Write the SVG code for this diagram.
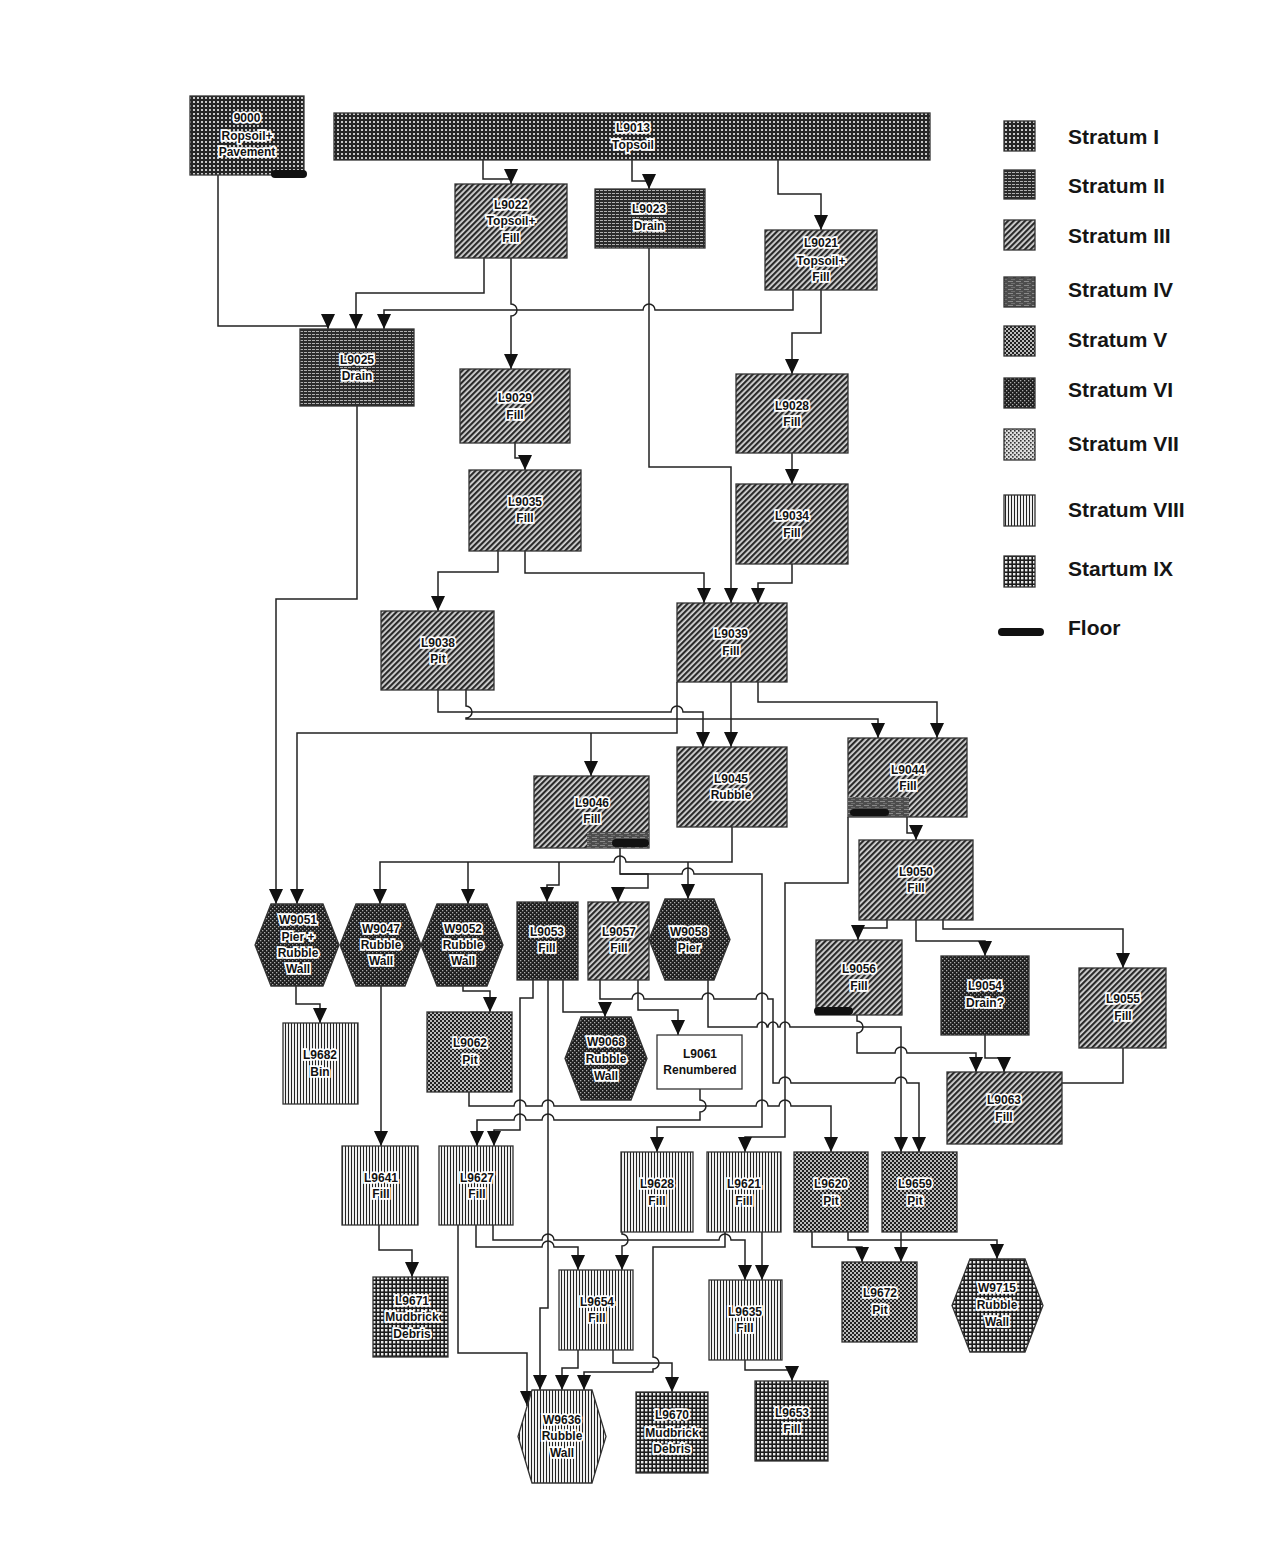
<svg xmlns="http://www.w3.org/2000/svg" width="1276" height="1550" viewBox="0 0 1276 1550">
<defs>
<style>
.n{stroke:#333;stroke-width:1.3}
.t{font-family:"Liberation Sans",Arial,sans-serif;font-weight:bold;font-size:12px;fill:#111;stroke:#fff;stroke-width:3.5;paint-order:stroke;stroke-linejoin:miter;text-anchor:middle}
.tp{font-family:"Liberation Sans",Arial,sans-serif;font-weight:bold;font-size:12px;fill:#111;text-anchor:middle}
#connectors path{fill:none;stroke:#222;stroke-width:1.5}
#connectors path.a{marker-end:url(#ah)}
.leg{font-family:"Liberation Sans",Arial,sans-serif;font-weight:bold;font-size:21px;fill:#151515}
.fl{fill:#111}
</style>
<marker id="ah" markerUnits="userSpaceOnUse" markerWidth="15" markerHeight="14" refX="15" refY="7" orient="auto"><path d="M0,0 L15,7 L0,14 z" fill="#111"/></marker>
<pattern id="pI" width="4" height="4" patternUnits="userSpaceOnUse"><rect width="4" height="4" fill="#262626"/><rect x="1" y="1" width="2" height="2" fill="#c8c8c8"/></pattern>
<pattern id="pII" width="4" height="3" patternUnits="userSpaceOnUse"><rect width="4" height="3" fill="#2b2b2b"/><rect x="0" y="1" width="3" height="1" fill="#b0b0b0"/></pattern>
<pattern id="pIII" width="4" height="4" patternUnits="userSpaceOnUse" patternTransform="rotate(45)"><rect width="4" height="4" fill="#d8d8d8"/><rect width="2.2" height="4" fill="#2a2a2a"/></pattern>
<pattern id="pIV" width="8" height="4" patternUnits="userSpaceOnUse"><rect width="8" height="4" fill="#4d4d4d"/><rect y="1" width="5" height="1" fill="#8a8a8a"/><rect x="3" y="3" width="4" height="0.8" fill="#777"/></pattern>
<pattern id="pV" width="4" height="4" patternUnits="userSpaceOnUse"><rect width="4" height="4" fill="#bbb"/><rect width="2" height="2" fill="#222"/><rect x="2" y="2" width="2" height="2" fill="#222"/></pattern>
<pattern id="pVI" width="4" height="4" patternUnits="userSpaceOnUse"><rect width="4" height="4" fill="#1e1e1e"/><rect width="1.3" height="1.3" fill="#aaa"/><rect x="2" y="2" width="1.3" height="1.3" fill="#aaa"/></pattern>
<pattern id="pVII" width="4" height="4" patternUnits="userSpaceOnUse"><rect width="4" height="4" fill="#ddd"/><rect width="1.6" height="1.6" fill="#333"/><rect x="2" y="2" width="1.6" height="1.6" fill="#333"/></pattern>
<pattern id="pVIII" width="3" height="3" patternUnits="userSpaceOnUse"><rect width="3" height="3" fill="#f0f0f0"/><rect width="1" height="3" fill="#222"/></pattern>
<pattern id="pIX" width="4" height="4" patternUnits="userSpaceOnUse"><rect width="4" height="4" fill="#1c1c1c"/><rect x="1" y="1" width="2.4" height="2.4" fill="#e8e8e8"/></pattern>
</defs>
<rect width="1276" height="1550" fill="#fff"/>

<g id="connectors">
<path class="a" d="M483,160 V179 H511 V184"/>
<path class="a" d="M632,160 V181 H649 V189"/>
<path class="a" d="M778,160 V194 H821 V230"/>
<path class="a" d="M218,175 V326 H328 V329"/>
<path class="a" d="M484,258 V293 H356 V329"/>
<path class="a" d="M793,290 V310 H655 a6,6 0 0 0 -12,0 H384 V329"/>
<path class="a" d="M511,258 V304 a6,6 0 0 1 0,12 V369"/>
<path class="a" d="M649,248 V467 H731 V603"/>
<path class="a" d="M821,290 V333 H792 V374"/>
<path class="a" d="M357,406 V599 H276 V904"/>
<path class="a" d="M515,443 V458 H525 V470"/>
<path class="a" d="M792,453 V484"/>
<path class="a" d="M498,551 V572 H438 V611"/>
<path class="a" d="M525,551 V573 H704 V603"/>
<path class="a" d="M792,564 V583 H758 V603"/>
<path class="a" d="M438,690 V712 H671 a6,6 0 0 1 12,0 H703 V747"/>
<path class="a" d="M466,690 V706 a6,6 0 0 1 0,12 V719 H878 V738"/>
<path class="a" d="M677,682 V733 H297 V904"/>
<path class="a" d="M591,733 V776"/>
<path class="a" d="M731,682 V747"/>
<path class="a" d="M758,682 V702 H937 V738"/>
<path class="a" d="M907,817 V833 H916 V840"/>
<path class="a" d="M848,817 V883 H785 V1137 H745 V1152"/>
<path class="a" d="M732,827 V862 H626 a6,6 0 0 0 -12,0 H380 V904"/>
<path class="a" d="M468,862 V904"/>
<path class="a" d="M559,862 V885 H547 V902"/>
<path class="a" d="M688,862 V899"/>
<path class="a" d="M620,848 V874 H648 V888 H618 V902"/>
<path class="a" d="M620,874 H682 a6,6 0 0 1 12,0 H762 V1127 H657 V1152"/>
<path class="a" d="M887,920 V928 H858 V940"/>
<path class="a" d="M916,920 V941 H985 V956"/>
<path class="a" d="M943,920 V929 H1123 V968"/>
<path class="a" d="M985,1035 V1058 H1004 V1072"/>
<path class="a" d="M857,1015 V1021 a6,6 0 0 1 0,12 V1053 H895 a6,6 0 0 1 12,0 H976 V1072"/>
<path d="M1123,1048 V1083 H1062"/>
<path class="a" d="M708,980 V1027 H757 a5,5 0 0 1 10,0 H768 a5,5 0 0 1 10,0 H780 a5,5 0 0 1 10,0 H901 V1152"/>
<path class="a" d="M296,986 V1004 H320 V1023"/>
<path class="a" d="M381,986 V1146"/>
<path class="a" d="M463,986 V991 H490 V1012"/>
<path class="a" d="M533,980 V998 H520 V1130 H494 V1146"/>
<path class="a" d="M548,980 V1308 H540 V1390"/>
<path class="a" d="M563,980 V1012 H605 V1017"/>
<path class="a" d="M638,980 V1010 H678 V1035"/>
<path class="a" d="M600,980 V999 H632 a6,6 0 0 1 12,0 H702 a6,6 0 0 1 12,0 H756 a6,6 0 0 1 12,0 H773 V1083 H779 a6,6 0 0 1 12,0 H895 a6,6 0 0 1 12,0 H919 V1152"/>
<path class="a" d="M469,1092 V1106 H514 a6,6 0 0 1 12,0 H542 a6,6 0 0 1 12,0 H756 a6,6 0 0 1 12,0 H779 a6,6 0 0 1 12,0 H831 V1152"/>
<path class="a" d="M700,1089 V1100 a6,6 0 0 1 0,12 V1120 H554 a6,6 0 0 0 -12,0 H526 a6,6 0 0 0 -12,0 H477 V1146"/>
<path class="a" d="M379,1225 V1250 H412 V1277"/>
<path class="a" d="M458,1225 V1353 H527 V1406"/>
<path class="a" d="M476,1225 V1247 H542 a6,6 0 0 1 12,0 H578 V1270"/>
<path class="a" d="M493,1225 V1240 H542 a6,6 0 0 1 12,0 H719 a6,6 0 0 1 12,0 H745 V1280"/>
<path class="a" d="M622,1232 V1234 a6,6 0 0 1 0,12 V1270"/>
<path class="a" d="M725,1232 V1247 H653 V1357 a6,6 0 0 1 0,12 V1372 H584 V1390"/>
<path class="a" d="M613,1350 V1363 H672 V1392"/>
<path class="a" d="M578,1350 V1368 H562 V1390"/>
<path class="a" d="M762,1232 V1280"/>
<path class="a" d="M745,1360 V1370 H792 V1381"/>
<path class="a" d="M812,1232 V1247 H862 V1262"/>
<path class="a" d="M901,1232 V1262"/>
<path class="a" d="M848,1232 V1240 H997 V1259"/>
</g>

<g id="L9000"><rect class="n" x="190" y="96" width="114" height="79" fill="url(#pI)"/><rect class="fl" x="271" y="170" width="36" height="8" rx="4"/><text class="t" x="247"><tspan x="247" y="122">9000</tspan><tspan x="247" y="140">Ropsoil+</tspan><tspan x="247" y="156">Pavement</tspan></text></g>
<g id="L9013"><rect class="n" x="334" y="113" width="596" height="47" fill="url(#pI)"/><text class="t"><tspan x="633" y="132">L9013</tspan><tspan x="633" y="149">Topsoil</tspan></text></g>
<g id="L9022"><rect class="n" x="455" y="184" width="112" height="74" fill="url(#pIII)"/><text class="t"><tspan x="511" y="209">L9022</tspan><tspan x="511" y="225">Topsoil+</tspan><tspan x="511" y="242">Fill</tspan></text></g>
<g id="L9023"><rect class="n" x="595" y="189" width="110" height="59" fill="url(#pII)"/><text class="t"><tspan x="649" y="213">L9023</tspan><tspan x="649" y="230">Drain</tspan></text></g>
<g id="L9021"><rect class="n" x="765" y="230" width="112" height="60" fill="url(#pIII)"/><text class="t"><tspan x="821" y="247">L9021</tspan><tspan x="821" y="265">Topsoil+</tspan><tspan x="821" y="281">Fill</tspan></text></g>
<g id="L9025"><rect class="n" x="300" y="329" width="114" height="77" fill="url(#pII)"/><text class="t"><tspan x="357" y="364">L9025</tspan><tspan x="357" y="380">Drain</tspan></text></g>
<g id="L9029"><rect class="n" x="460" y="369" width="110" height="74" fill="url(#pIII)"/><text class="t"><tspan x="515" y="402">L9029</tspan><tspan x="515" y="419">Fill</tspan></text></g>
<g id="L9028"><rect class="n" x="736" y="374" width="112" height="79" fill="url(#pIII)"/><text class="t"><tspan x="792" y="410">L9028</tspan><tspan x="792" y="426">Fill</tspan></text></g>
<g id="L9035"><rect class="n" x="469" y="470" width="112" height="81" fill="url(#pIII)"/><text class="t"><tspan x="525" y="506">L9035</tspan><tspan x="525" y="522">Fill</tspan></text></g>
<g id="L9034"><rect class="n" x="736" y="484" width="112" height="80" fill="url(#pIII)"/><text class="t"><tspan x="792" y="520">L9034</tspan><tspan x="792" y="537">Fill</tspan></text></g>
<g id="L9038"><rect class="n" x="381" y="611" width="113" height="79" fill="url(#pIII)"/><text class="t"><tspan x="438" y="647">L9038</tspan><tspan x="438" y="663">Pit</tspan></text></g>
<g id="L9039"><rect class="n" x="677" y="603" width="110" height="79" fill="url(#pIII)"/><text class="t"><tspan x="731" y="638">L9039</tspan><tspan x="731" y="655">Fill</tspan></text></g>
<g id="L9046"><rect class="n" x="534" y="776" width="115" height="72" fill="url(#pIII)"/><rect x="587" y="832" width="62" height="16" fill="url(#pIV)"/><rect class="fl" x="612" y="839" width="37" height="8" rx="4"/><text class="t"><tspan x="592" y="807">L9046</tspan><tspan x="592" y="823">Fill</tspan></text></g>
<g id="L9045"><rect class="n" x="677" y="747" width="110" height="80" fill="url(#pIII)"/><text class="t"><tspan x="731" y="783">L9045</tspan><tspan x="731" y="799">Rubble</tspan></text></g>
<g id="L9044"><rect class="n" x="848" y="738" width="119" height="79" fill="url(#pIII)"/><rect x="848" y="797" width="61" height="20" fill="url(#pIV)"/><rect class="fl" x="850" y="809" width="39" height="7" rx="3.5"/><text class="t"><tspan x="908" y="774">L9044</tspan><tspan x="908" y="790">Fill</tspan></text></g>
<g id="L9050"><rect class="n" x="859" y="840" width="114" height="80" fill="url(#pIII)"/><text class="t"><tspan x="916" y="876">L9050</tspan><tspan x="916" y="892">Fill</tspan></text></g>
<g id="W9051"><polygon class="n" points="271,904 323,904 339,945 323,986 271,986 255,945" fill="url(#pVI)"/><text class="t"><tspan x="298" y="924">W9051</tspan><tspan x="298" y="941">Pier +</tspan><tspan x="298" y="957">Rubble</tspan><tspan x="298" y="973">Wall</tspan></text></g>
<g id="W9047"><polygon class="n" points="356,904 405,904 421,945 405,986 356,986 340,945" fill="url(#pVI)"/><text class="t"><tspan x="381" y="933">W9047</tspan><tspan x="381" y="949">Rubble</tspan><tspan x="381" y="965">Wall</tspan></text></g>
<g id="W9052"><polygon class="n" points="437,904 487,904 503,945 487,986 437,986 421,945" fill="url(#pVI)"/><text class="t"><tspan x="463" y="933">W9052</tspan><tspan x="463" y="949">Rubble</tspan><tspan x="463" y="965">Wall</tspan></text></g>
<g id="L9053"><rect class="n" x="517" y="902" width="61" height="78" fill="url(#pVI)"/><text class="t"><tspan x="547" y="936">L9053</tspan><tspan x="547" y="952">Fill</tspan></text></g>
<g id="L9057"><rect class="n" x="588" y="902" width="61" height="78" fill="url(#pIII)"/><text class="t"><tspan x="619" y="936">L9057</tspan><tspan x="619" y="952">Fill</tspan></text></g>
<g id="W9058"><polygon class="n" points="665,899 714,899 730,939.5 714,980 665,980 649,939.5" fill="url(#pVI)"/><text class="t"><tspan x="689" y="936">W9058</tspan><tspan x="689" y="952">Pier</tspan></text></g>
<g id="L9056"><rect class="n" x="816" y="940" width="86" height="75" fill="url(#pIII)"/><rect class="fl" x="814" y="1007" width="39" height="8" rx="4"/><text class="t"><tspan x="859" y="973">L9056</tspan><tspan x="859" y="990">Fill</tspan></text></g>
<g id="L9054"><rect class="n" x="941" y="956" width="88" height="79" fill="url(#pVI)"/><text class="t"><tspan x="985" y="990">L9054</tspan><tspan x="985" y="1007">Drain?</tspan></text></g>
<g id="L9055"><rect class="n" x="1079" y="968" width="87" height="80" fill="url(#pIII)"/><text class="t"><tspan x="1123" y="1003">L9055</tspan><tspan x="1123" y="1020">Fill</tspan></text></g>
<g id="L9063"><rect class="n" x="947" y="1072" width="115" height="72" fill="url(#pIII)"/><text class="t"><tspan x="1004" y="1104">L9063</tspan><tspan x="1004" y="1121">Fill</tspan></text></g>
<g id="L9682"><rect class="n" x="283" y="1023" width="75" height="81" fill="url(#pVIII)"/><text class="t"><tspan x="320" y="1059">L9682</tspan><tspan x="320" y="1076">Bin</tspan></text></g>
<g id="L9062"><rect class="n" x="427" y="1012" width="85" height="80" fill="url(#pV)"/><text class="t"><tspan x="470" y="1047">L9062</tspan><tspan x="470" y="1064">Pit</tspan></text></g>
<g id="W9068"><polygon class="n" points="581,1017 631,1017 647,1058.5 631,1100 581,1100 565,1058.5" fill="url(#pVI)"/><text class="t"><tspan x="606" y="1046">W9068</tspan><tspan x="606" y="1063">Rubble</tspan><tspan x="606" y="1080">Wall</tspan></text></g>
<g id="L9061"><rect class="n" x="657" y="1035" width="85" height="54" fill="#fff"/><text class="tp"><tspan x="700" y="1058">L9061</tspan><tspan x="700" y="1074">Renumbered</tspan></text></g>
<g id="L9641"><rect class="n" x="342" y="1146" width="76" height="79" fill="url(#pVIII)"/><text class="t"><tspan x="381" y="1182">L9641</tspan><tspan x="381" y="1198">Fill</tspan></text></g>
<g id="L9627"><rect class="n" x="439" y="1146" width="74" height="79" fill="url(#pVIII)"/><text class="t"><tspan x="477" y="1182">L9627</tspan><tspan x="477" y="1198">Fill</tspan></text></g>
<g id="L9628"><rect class="n" x="621" y="1152" width="72" height="80" fill="url(#pVIII)"/><text class="t"><tspan x="657" y="1188">L9628</tspan><tspan x="657" y="1205">Fill</tspan></text></g>
<g id="L9621"><rect class="n" x="707" y="1152" width="74" height="80" fill="url(#pVIII)"/><text class="t"><tspan x="744" y="1188">L9621</tspan><tspan x="744" y="1205">Fill</tspan></text></g>
<g id="L9620"><rect class="n" x="794" y="1152" width="74" height="80" fill="url(#pV)"/><text class="t"><tspan x="831" y="1188">L9620</tspan><tspan x="831" y="1205">Pit</tspan></text></g>
<g id="L9659"><rect class="n" x="882" y="1152" width="75" height="80" fill="url(#pV)"/><text class="t"><tspan x="915" y="1188">L9659</tspan><tspan x="915" y="1205">Pit</tspan></text></g>
<g id="L9671"><rect class="n" x="373" y="1277" width="75" height="80" fill="url(#pIX)"/><text class="t"><tspan x="412" y="1305">L9671</tspan><tspan x="412" y="1321">Mudbrick</tspan><tspan x="412" y="1338">Debris</tspan></text></g>
<g id="L9654"><rect class="n" x="559" y="1270" width="74" height="80" fill="url(#pVIII)"/><text class="t"><tspan x="597" y="1306">L9654</tspan><tspan x="597" y="1322">Fill</tspan></text></g>
<g id="L9635"><rect class="n" x="709" y="1280" width="73" height="80" fill="url(#pVIII)"/><text class="t"><tspan x="745" y="1316">L9635</tspan><tspan x="745" y="1332">Fill</tspan></text></g>
<g id="L9672"><rect class="n" x="842" y="1262" width="75" height="80" fill="url(#pV)"/><text class="t"><tspan x="880" y="1297">L9672</tspan><tspan x="880" y="1314">Pit</tspan></text></g>
<g id="W9715"><polygon class="n" points="970,1259 1025,1259 1043,1305.5 1025,1352 970,1352 952,1305.5" fill="url(#pIX)"/><text class="t"><tspan x="997" y="1292">W9715</tspan><tspan x="997" y="1309">Rubble</tspan><tspan x="997" y="1326">Wall</tspan></text></g>
<g id="W9636"><polygon class="n" points="532,1390 592,1390 606,1436.5 592,1483 532,1483 518,1436.5" fill="url(#pVIII)"/><text class="t"><tspan x="562" y="1424">W9636</tspan><tspan x="562" y="1440">Rubble</tspan><tspan x="562" y="1457">Wall</tspan></text></g>
<g id="L9670"><rect class="n" x="636" y="1392" width="72" height="81" fill="url(#pIX)"/><text class="t"><tspan x="672" y="1419">L9670</tspan><tspan x="672" y="1437">Mudbrick</tspan><tspan x="672" y="1453">Debris</tspan></text></g>
<g id="L9653"><rect class="n" x="755" y="1381" width="73" height="80" fill="url(#pIX)"/><text class="t"><tspan x="792" y="1417">L9653</tspan><tspan x="792" y="1433">Fill</tspan></text></g>

<g id="legend">
<rect class="n" x="1004" y="121" width="31" height="30" fill="url(#pI)"/><text class="leg" x="1068" y="144">Stratum I</text>
<rect class="n" x="1004" y="170" width="31" height="29" fill="url(#pII)"/><text class="leg" x="1068" y="193">Stratum II</text>
<rect class="n" x="1004" y="220" width="31" height="30" fill="url(#pIII)"/><text class="leg" x="1068" y="243">Stratum III</text>
<rect class="n" x="1004" y="277" width="31" height="30" fill="url(#pIV)"/><text class="leg" x="1068" y="297">Stratum IV</text>
<rect class="n" x="1004" y="326" width="31" height="30" fill="url(#pV)"/><text class="leg" x="1068" y="347">Stratum V</text>
<rect class="n" x="1004" y="378" width="31" height="30" fill="url(#pVI)"/><text class="leg" x="1068" y="397">Stratum VI</text>
<rect class="n" x="1004" y="429" width="31" height="31" fill="url(#pVII)"/><text class="leg" x="1068" y="451">Stratum VII</text>
<rect class="n" x="1004" y="495" width="31" height="31" fill="url(#pVIII)"/><text class="leg" x="1068" y="517">Stratum VIII</text>
<rect class="n" x="1004" y="556" width="31" height="31" fill="url(#pIX)"/><text class="leg" x="1068" y="576">Startum IX</text>
<rect class="fl" x="998" y="628" width="46" height="8" rx="4"/><text class="leg" x="1068" y="635">Floor</text>
</g>
</svg>
